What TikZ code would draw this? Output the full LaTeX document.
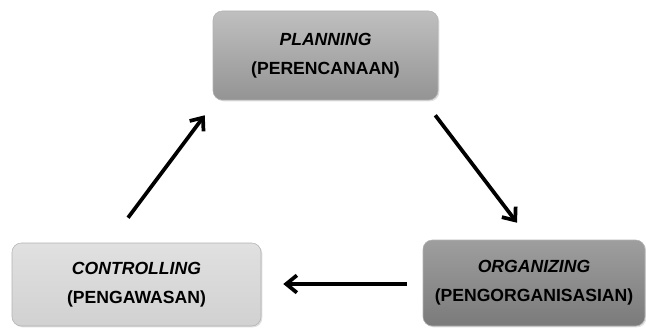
\documentclass[tikz,border=0pt]{standalone}
\usepackage{fontspec}
\setmainfont{Liberation Sans}
\usetikzlibrary{calc,arrows.meta,shadows}

\begin{document}
\begin{tikzpicture}[x=0.75pt,y=-0.75pt,
                line width=2.8pt,
                flow/.style={-{Straight Barb[length=8pt,width=13pt]}},
                step box/.style={rectangle,rounded corners=7pt,draw=gray!60,line width=0.4pt,
                  align=center,inner sep=0pt,
                  font=\fontsize{13.2}{22}\selectfont\bfseries,
                  drop shadow={opacity=0.25,shadow xshift=1pt,shadow yshift=-1pt}},
                plan box/.style={step box,top color=black!25,bottom color=black!42,
                  minimum width=168.75pt,minimum height=66.75pt},
                ctrl box/.style={step box,top color=black!12,bottom color=black!18,
                  minimum width=186.75pt,minimum height=62.25pt},
                org box/.style={step box,top color=black!38,bottom color=black!52,
                  minimum width=166.5pt,minimum height=64.5pt}]
	\useasboundingbox (0,0) rectangle (646,328);

	\node[plan box] (plan) at (325.5,55.5) {\textit{PLANNING}\\(PERENCANAAN)};
	\node[ctrl box] (ctrl) at (136.5,284.5) {\textit{CONTROLLING}\\(PENGAWASAN)};
	\node[org box] (org) at (534,283) {\textit{ORGANIZING}\\(PENGORGANISASIAN)};

	\draw[flow] ($(ctrl.north)+(-8.5,-25)$) -- ($(plan.south west)+(-8,15)$);
	\draw[flow] ($(plan.south east)+(-3,15)$) -- ($(org.north)+(-17,-17)$);
	\draw[flow] ($(org.west)+(-16,1)$) -- ($(ctrl.east)+(22,-0.5)$);
\end{tikzpicture}
\end{document}
